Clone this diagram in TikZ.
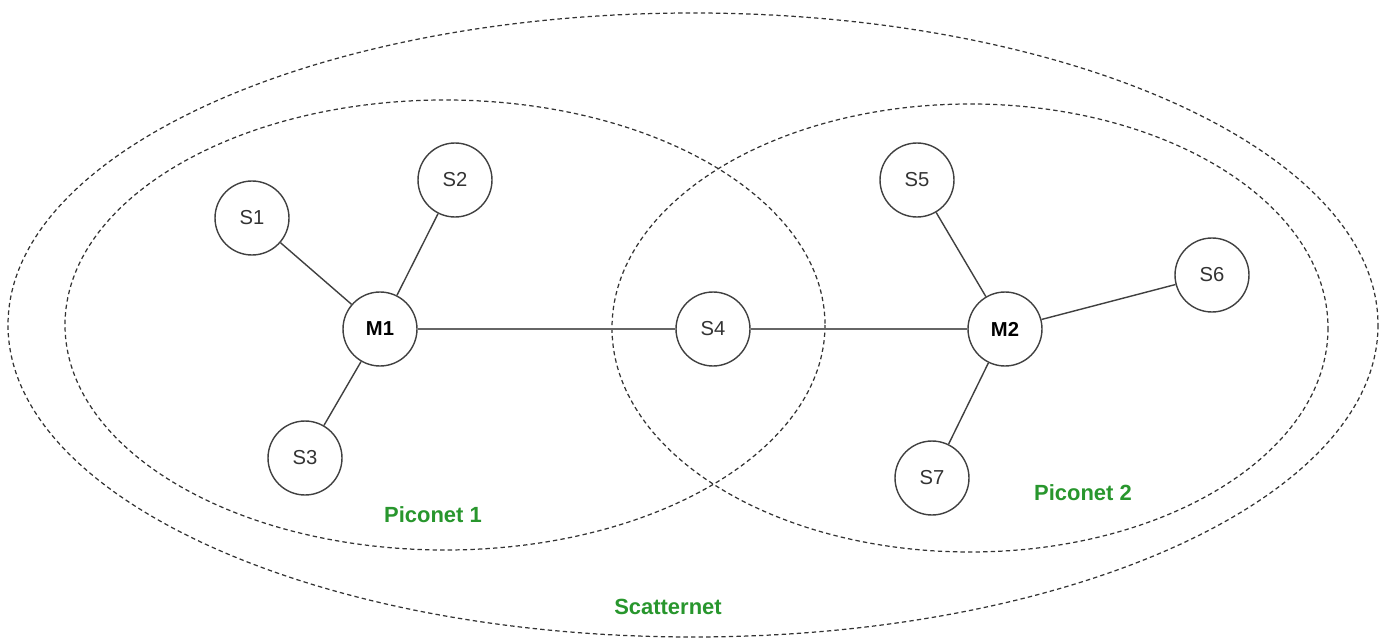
\documentclass[tikz,border=0pt]{standalone}
\usepackage{fontspec}
\setmainfont{Liberation Sans}
\definecolor{netgreen}{RGB}{40,150,45}

\def \scatter{ (693,325) ellipse (685 and 312) }
\def \picoA{ (445,325) ellipse (380 and 225) }
\def \picoB{ (970,328) ellipse (358 and 224) }

\begin{document}
\begin{tikzpicture}[x=0.02cm,y=-0.02cm,
  dev/.style={draw=black!75,line width=0.8pt,circle,minimum size=1.48cm,inner sep=0pt,font=\fontsize{11.5}{13}\selectfont,text=black!80},
  master/.style={dev,font=\bfseries\fontsize{11.5}{13}\selectfont,text=black},
  link/.style={draw=black!75,line width=0.8pt},
  bridge/.style={draw=black!60,line width=1.5pt},
  net/.style={draw=black!80,line width=0.7pt,dash pattern=on 2.5pt off 1.8pt},
  netlabel/.style={text=netgreen,font=\bfseries\fontsize{12.5}{14}\selectfont}]
\useasboundingbox (0,0) rectangle (1387,642);
\draw[net] \scatter;
\draw[net] \picoA;
\draw[net] \picoB;
% devices
\node[master] (m1) at (380,329) {M1};
\node[master] (m2) at (1005,329) {M2};
\node[dev] (s1) at (252,218) {S1};
\node[dev] (s2) at (455,180) {S2};
\node[dev] (s3) at (305,458) {S3};
\node[dev] (s4) at (713,329) {S4};
\node[dev] (s5) at (917,180) {S5};
\node[dev] (s6) at (1212,275) {S6};
\node[dev] (s7) at (932,478) {S7};
\draw[link] (m1) -- (s1) (m1) -- (s2) (m1) -- (s3);
\draw[link] (m2) -- (s5) (m2) -- (s6) (m2) -- (s7);
\draw[bridge] (m1) -- (s4) -- (m2);
\node[netlabel] (p1) at (433,515) {Piconet 1};
\node[netlabel] (p2) at (1083,493) {Piconet 2};
\node[netlabel] (sc) at (668,607) {Scatternet};
\end{tikzpicture}
\end{document}
